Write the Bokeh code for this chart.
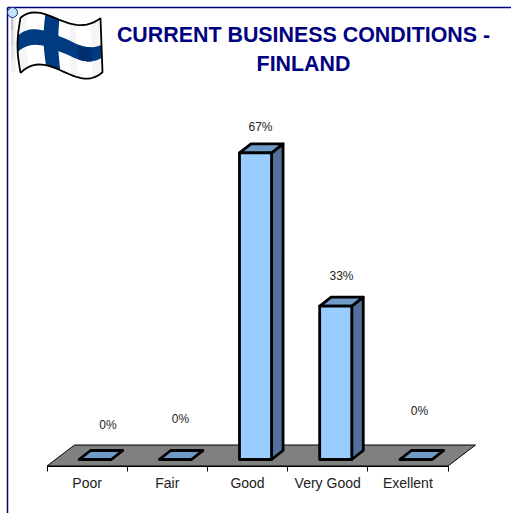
from bokeh.plotting import figure
from bokeh.embed import file_html
from bokeh.resources import INLINE
from bokeh.core.properties import value
from bokeh.models import Range1d, LinearAxis, FixedTicker
import numpy as np

# ---- data
categories = ["Poor", "Fair", "Good", "Very Good", "Exellent"]
percent = [0.0, 0.0, 66.67, 33.33, 0.0]
title_lines = ["CURRENT BUSINESS CONDITIONS -", "FINLAND"]

# ---- layout (page pixels)
PX_PER_CAT, PX_PER_PCT = 80.2, 4.6
AXIS_X, BASE_Y, FLOOR_Y = 46.5, 459.0, 465.5
PAGE_W, PAGE_H = 511, 513
label_x = [107.5, 180, 260, 341, 419]
label_lift = [26, 32, 17, 21, 40]   # above the top of each bar's back edge


def U(px):
    return (px - AXIS_X) / PX_PER_CAT


def V(py):
    return (BASE_Y - py) / PX_PER_PCT


p = figure(
    width=PAGE_W, height=PAGE_H,
    x_range=Range1d(U(0), U(PAGE_W)), y_range=Range1d(V(PAGE_H), V(0)),
    output_backend="svg", toolbar_location=None, x_axis_type=None, y_axis_type=None,
    min_border_left=0, min_border_right=0, min_border_top=0, min_border_bottom=0,
    outline_line_color=None, background_fill_color="white",
)
p.grid.visible = False

# floor
DEPTH_X, DEPTH_Y = 27.5, 21.0
p.patch(
    [0, 5, 5 + DEPTH_X / PX_PER_CAT, DEPTH_X / PX_PER_CAT],
    [V(FLOOR_Y), V(FLOOR_Y), V(FLOOR_Y) + DEPTH_Y / PX_PER_PCT, V(FLOOR_Y) + DEPTH_Y / PX_PER_PCT],
    fill_color="#808080", line_color="black", line_width=1,
)

# axis
axis = LinearAxis(
    fixed_location=V(FLOOR_Y),
    ticker=FixedTicker(ticks=[i + 0.5 for i in range(5)], minor_ticks=list(range(6))),
    major_label_overrides={i + 0.5: c for i, c in enumerate(categories)},
    major_tick_line_color=None, major_tick_out=0, major_tick_in=0,
    minor_tick_line_color="black", minor_tick_out=5, minor_tick_in=0,
    axis_line_color="black", axis_line_width=1,
    major_label_text_font="Liberation Sans", major_label_text_font_size="14px",
    major_label_text_color="#222222", major_label_standoff=4,
    major_label_orientation="horizontal",
)
axis.bounds = (0, 5)
p.add_layout(axis, "below")

# page frame lines at the top and left
p.segment([U(7)], [V(7)], [U(PAGE_W)], [V(7)], line_color="#000080", line_width=1.5)
p.segment([U(7)], [V(7)], [U(7)], [V(PAGE_H)], line_color="#000080", line_width=1.5)

# 3-D bars
BAR_X0, BAR_W = 0.4, 0.4
DX, DY = 11.5 / PX_PER_CAT, 9.0 / PX_PER_PCT
outline = dict(line_color="black", line_width=2.8, line_join="round")
for i, val in enumerate(percent):
    l, r = i + BAR_X0, i + BAR_X0 + BAR_W
    p.patch([r, r + DX, r + DX, r], [0, DY, val + DY, val], fill_color="#52709A", **outline)
    p.patch([l, r, r + DX, l + DX], [val, val, val + DY, val + DY], fill_color="#6F9BC8", **outline)
    if val > 0:
        p.patch([l, r, r, l], [0, 0, val, val], fill_color="#99CCFF", **outline)

# value labels
for i, val in enumerate(percent):
    p.text([U(label_x[i])], [val + DY + label_lift[i] / PX_PER_PCT], text=[f"{round(val)}%"],
           text_font=value("Liberation Sans"), text_font_size="12px", text_color="#222222",
           text_align="center", text_baseline="middle")

# title
for line, base in zip(title_lines, [34.5, 63.5]):
    p.text([U(303)], [V(base)], text=[line], text_font=value("Liberation Sans"),
           text_font_size="21.4px", text_font_style="bold", text_color="#000080",
           text_align="center", text_baseline="alphabetic")

# ---- flag ornament (page pixels, through the scales)
top_y = [17, 13, 13, 20, 25, 23, 18]
bot_y = [72, 66, 63, 71, 77, 77, 72]
tc = np.polyfit(np.linspace(0, 1, 7), top_y, 4)
bc = np.polyfit(np.linspace(0, 1, 7), bot_y, 4)


def flag(s, t):
    s, t = np.asarray(s, float), np.asarray(t, float)
    xt = 20 + 80 * s
    xb = 20 + 82 * s
    x = xt * (1 - t) + xb * t - 3 * np.sin(np.pi * t) * (1 - s)
    y = np.polyval(tc, s) * (1 - t) + np.polyval(bc, s) * t
    return x, y


def quad(s0, s1, t0, t1, fill, line=None, lw=0):
    ss = np.linspace(s0, s1, 24)
    tt = np.linspace(t0, t1, 12)
    S = np.r_[ss, np.full(12, s1), ss[::-1], np.full(12, s0)]
    T = np.r_[np.full(24, t0), tt, np.full(24, t1), tt[::-1]]
    x, y = flag(S, T)
    p.patch(U(x), V(y), fill_color=fill, line_color=line, line_width=lw)


def band(s0, s1, fill):
    ss = np.linspace(s0, s1, 30)
    up = np.interp(ss, [0, 0.6, 1], [0.32, 0.32, 0.49])
    lo = np.interp(ss, [0, 0.6, 1], [0.62, 0.62, 0.73])
    x, y = flag(np.r_[ss, ss[::-1]], np.r_[up, lo[::-1]])
    p.patch(U(x), V(y), fill_color=fill, line_color=None)


# pole and ball
for a, b, c in [(16, 30, "#C4C4C4"), (30, 46, "#D4D4D4"), (46, 60, "#E2E2E2"), (60, 72, "#F0F0F0")]:
    p.quad(left=U(10.5), right=U(13), top=V(a), bottom=V(b), fill_color=c, line_color=None)
    p.quad(left=U(13), right=U(15), top=V(a), bottom=V(b), fill_color="#EFEFEF", line_color=None)
quad(0, 1, 0, 1, "white")
for a, b in [(0.02, 0.1), (0.62, 0.7), (0.88, 0.98)]:
    quad(a, b, 0, 1, "#F5F5F5")
quad(0.31, 0.485, 0, 1, "#003A80")
band(0, 1, "#003A80")
band(0.72, 0.88, "#002F70")
quad(0, 1, 0, 1, None, "black", 1.8)
p.scatter([U(12)], [V(12)], size=10, fill_color="#BFE6FA", line_color="#1A2A80", line_width=1)

open("out.html", "w").write(file_html(p, INLINE))
